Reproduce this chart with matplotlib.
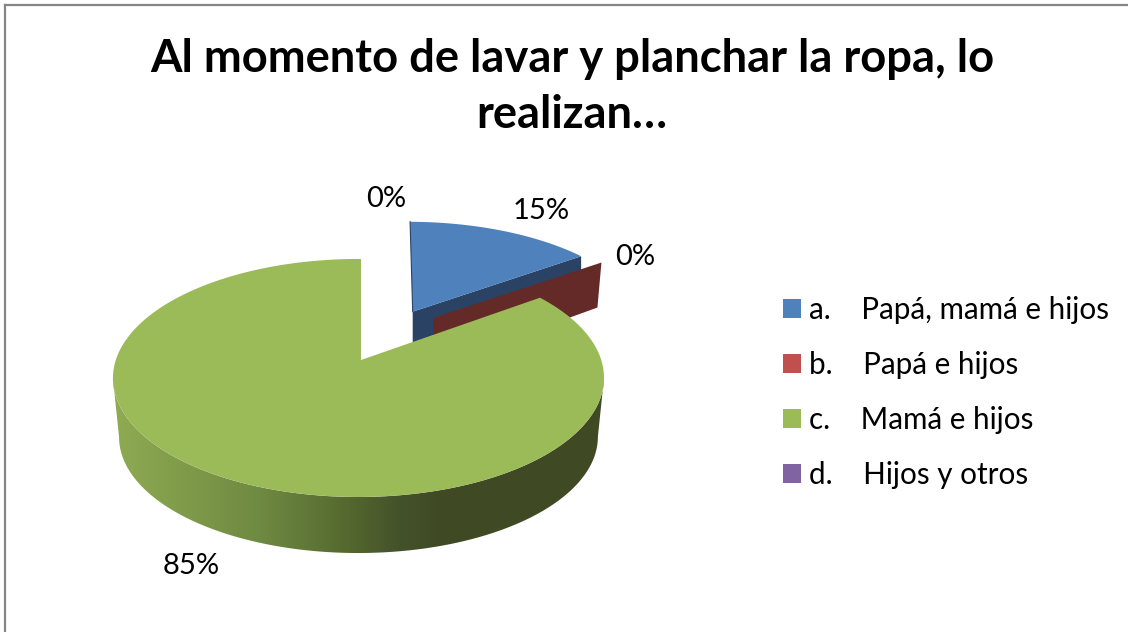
import numpy as np
import matplotlib
matplotlib.use("Agg")
import matplotlib.pyplot as plt
from matplotlib.patches import Polygon, Patch
from matplotlib.colors import LinearSegmentedColormap

title = "Al momento de lavar y planchar la ropa, lo\nrealizan…"
categories = ["a.    Papá, mamá e hijos", "b.    Papá e hijos", "c.    Mamá e hijos", "d.    Hijos y otros"]
shares = [15, 0, 85, 0]
colors = ["#4F81BD", "#C0504D", "#9BBB59", "#8064A2"]
side_colors = ["#2A4365", "#632A28", "#3F4A24", "#4A3A60"]

plt.rcParams["font.family"] = ["Lato", "DejaVu Sans"]
fig = plt.figure(figsize=(11.28, 6.32), dpi=100)
ax = fig.add_axes([0, 0, 1, 1])
ax.set_xlim(0, 1128)
ax.set_ylim(632, 0)
ax.axis("off")

# perspective view of the pie plane
P, Q, W, H = 0.151, 0.0102, 242.7, 116.3
DEPTH_SCALE, DEPTH_DY, DEPTH_DX = 0.975, 59.0, 0.0

def plane(theta, apex, sx, sy, shear=0.0):
    t = np.radians(theta)
    u, v = np.sin(t), np.cos(t)
    den = 1 + P * v + Q * u
    return apex[0] + (sx * W * u + shear * v) / den, apex[1] - sy * H * v / den

def lower(x, y, apex):
    cx, cy = apex[0] - 2.5, apex[1] + 18
    return (cx + DEPTH_DX + DEPTH_SCALE * (x - cx),
            cy + DEPTH_DY + DEPTH_SCALE * (y - cy))

bounds = np.concatenate([[0], np.cumsum(shares)]) * 3.6
apex_blue, apex_red, apex_green = (412.7, 311.7), (433.0, 318.0), (361.0, 360.0)
SX, SY, SHEAR = 0.95, 0.89, -3.0

def top_face(i, apex, sx, sy, shear=0.0):
    th = np.linspace(bounds[i], bounds[i + 1], 200)
    x, y = plane(th, apex, sx, sy, shear)
    return np.column_stack([np.r_[apex[0], x], np.r_[apex[1], y]])

# blue slice: inner face, then top
xe, ye = plane(bounds[1], apex_blue, SX, SY, SHEAR)
ax.add_patch(Polygon([apex_blue, (xe, ye), (xe, ye + 50), (apex_blue[0], apex_blue[1] + 50)],
                     fc=side_colors[0], ec="none", zorder=2))
ax.add_patch(Polygon(top_face(0, apex_blue, SX, SY, SHEAR), fc=colors[0], ec="none", zorder=3))
xt, yt = plane(bounds[0], apex_blue, SX, SY, SHEAR)
ax.plot([xt, apex_blue[0]], [yt, apex_blue[1]], color=side_colors[0], lw=0.8, zorder=3)

# red slice: zero share, only its wall shows
xr, yr = plane(bounds[2], apex_red, SX, SY, SHEAR)
ax.add_patch(Polygon([apex_red, (xr, yr), (xr - 4, yr + 45), (apex_red[0], apex_red[1] + 49)],
                     fc=side_colors[1], ec="none", zorder=4))

# green slice: rim with shading, then top
th = np.linspace(98.7, 261.3, 300)
xu, yu = plane(th, apex_green, 1.0, 1.0)
xd, yd = lower(xu, yu, apex_green)
rim = Polygon(np.column_stack([np.r_[xu, xd[::-1]], np.r_[yu, yd[::-1]]]), fc="none", ec="none",
              transform=ax.transData)
ax.add_patch(rim)
cmap = LinearSegmentedColormap.from_list("rim", [(0, "#8FAB52"), (0.45, "#6F8A42"), (0.72, "#55682F"),
                                                 (0.88, "#44522A"), (1, "#3F4A24")])
grad = np.linspace(0, 1, 512).reshape(1, -1)
im = ax.imshow(grad, cmap=cmap, extent=(112, 440, 632, 0), aspect="auto", zorder=5, vmin=0, vmax=1)
im2 = ax.imshow(np.ones((1, 2)), cmap=cmap, extent=(440, 610, 632, 0), aspect="auto", zorder=5, vmin=0, vmax=1)
im.set_clip_path(rim)
im2.set_clip_path(rim)
ax.set_xlim(0, 1128)
ax.set_ylim(632, 0)
ax.add_patch(Polygon(top_face(2, apex_green, 1.0, 1.0), fc=colors[2], ec="none", zorder=6))

# data labels
label_pos = [(541, 211), (635, 257), (191, 566), (386, 199)]
for share, (lx, ly) in zip(shares, label_pos):
    ax.text(lx, ly, f"{share}%", ha="center", va="center", fontsize=21, color="black", zorder=7)

ax.text(572, 87, title, ha="center", va="center", fontsize=32.7, fontweight="bold",
        color="black", linespacing=1.43, zorder=7)

handles = [Patch(fc=c, ec="none") for c in colors]
leg = ax.legend(handles, categories, loc="upper left", bbox_to_anchor=(783, 295.5),
                bbox_transform=ax.transData, frameon=False, fontsize=21.3, borderpad=0, borderaxespad=0,
                handlelength=0.61, handleheight=0.61, handletextpad=0.27, labelspacing=0.92)

# chart frame (only top and left edges fall inside the picture)
ax.plot([5, 5], [632, 5], color="#868686", lw=1.6, zorder=1, clip_on=True)
ax.plot([5, 1128], [5, 5], color="#868686", lw=1.6, zorder=1, clip_on=True)

fig.savefig("out.png", dpi=100, facecolor="white")
